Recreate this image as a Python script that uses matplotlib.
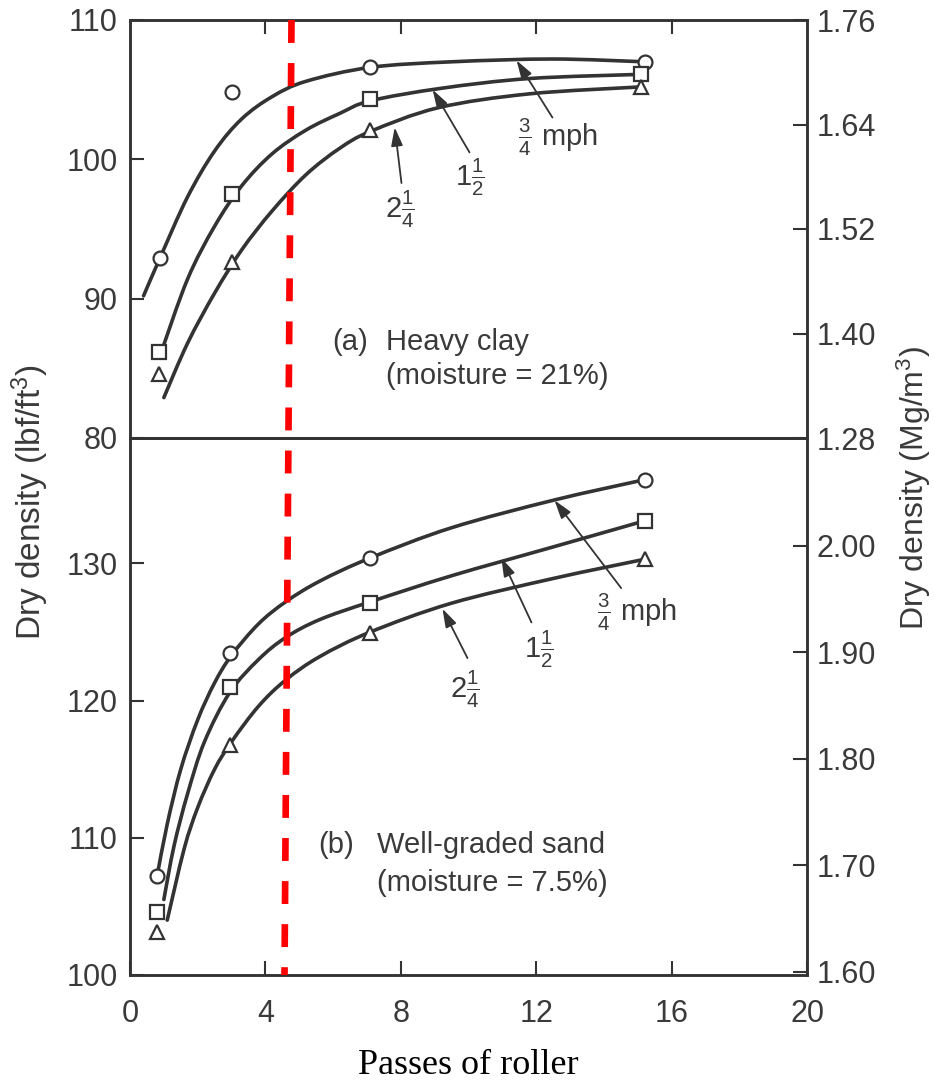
import matplotlib
matplotlib.use("Agg")
import matplotlib.pyplot as plt
from matplotlib.lines import Line2D
from matplotlib.path import Path
from matplotlib.patches import PathPatch

plt.rcParams['font.family'] = ['Liberation Sans', 'DejaVu Sans']
plt.rcParams['mathtext.fontset'] = 'custom'
plt.rcParams['mathtext.rm'] = 'Liberation Sans'
plt.rcParams['mathtext.it'] = 'Liberation Sans'
plt.rcParams['lines.scale_dashes'] = False

INK = '#333333'
TXT = '#3a3a3a'

# (a) heavy clay - measured points
top_circ_x = [0.9, 3.0, 7.1, 15.2]
top_circ_y = [92.9, 104.8, 106.6, 107.0]
top_sq_x = [0.85, 3.0, 7.1, 15.1]
top_sq_y = [86.2, 97.5, 104.3, 106.1]
top_tri_x = [0.85, 3.0, 7.1, 15.1]
top_tri_y = [84.6, 92.6, 102.1, 105.2]

# (a) fitted curves
top_c_cx = [0.4, 0.9, 1.7, 2.5, 3.3, 4.2, 5.2, 7.1, 9.5, 12.5, 15.2]
top_c_cy = [90.2, 93.0, 97.3, 100.6, 102.9, 104.5, 105.6, 106.6, 107.0, 107.2, 107.0]
top_s_cx = [0.9, 1.7, 2.5, 3.3, 4.2, 5.2, 6.2, 7.1, 9.2, 11.8, 15.1]
top_s_cy = [86.0, 91.4, 95.2, 98.1, 100.4, 102.1, 103.3, 104.2, 105.1, 105.8, 106.1]
top_t_cx = [1.0, 1.7, 2.5, 3.3, 4.2, 5.2, 6.2, 7.1, 9.1, 11.8, 15.1]
top_t_cy = [82.9, 86.8, 90.4, 93.5, 96.3, 98.9, 100.8, 102.0, 103.7, 104.7, 105.2]

# (b) well-graded sand - measured points
bot_circ_x = [0.8, 2.95, 7.1, 15.2]
bot_circ_y = [107.2, 123.5, 130.4, 136.1]
bot_sq_x = [0.8, 2.95, 7.1, 15.2]
bot_sq_y = [104.6, 121.0, 127.1, 133.1]
bot_tri_x = [0.8, 2.95, 7.1, 15.2]
bot_tri_y = [103.1, 116.8, 124.9, 130.3]

# (b) fitted curves
bot_c_cx = [0.8, 1.1, 1.5, 2.0, 2.5, 3.0, 3.8, 4.6, 5.6, 7.1, 9.5, 12.5, 15.2]
bot_c_cy = [107.2, 111.0, 115.0, 118.6, 121.3, 123.3, 125.6, 127.2, 128.7, 130.4, 132.6, 134.6, 136.1]
bot_s_cx = [1.0, 1.3, 1.7, 2.2, 2.95, 3.8, 4.6, 5.6, 7.1, 9.5, 12.5, 15.2]
bot_s_cy = [105.5, 109.4, 113.2, 117.0, 120.6, 123.0, 124.6, 125.9, 127.2, 129.1, 131.2, 133.1]
bot_t_cx = [1.1, 1.6, 2.0, 2.5, 3.0, 3.8, 4.6, 5.6, 7.1, 9.5, 12.5, 15.2]
bot_t_cy = [104.0, 109.2, 112.2, 115.0, 117.0, 119.6, 121.5, 123.2, 125.0, 127.1, 128.9, 130.3]

speed_labels = [r'$\frac{3}{4}$ mph', r'1$\frac{1}{2}$', r'2$\frac{1}{4}$']

fig = plt.figure(figsize=(9.34, 10.84), dpi=100)
W, H = 934, 1084
ax1 = fig.add_axes([130 / W, 1 - 438 / H, 677 / W, 418 / H])
ax2 = fig.add_axes([130 / W, 1 - 975 / H, 677 / W, 537 / H])


def style(ax):
    for s in ax.spines.values():
        s.set_color(INK)
        s.set_linewidth(1.8)
    ax.tick_params(direction='in', length=10, width=1.5, color=INK,
                   labelcolor=TXT, labelsize=22, pad=9)


def smooth(ax, xs, ys):
    # bezier path through the read points (catmull-rom style handles)
    pts = list(zip(xs, ys))
    n = len(pts)
    verts = [pts[0]]
    codes = [Path.MOVETO]
    for i in range(n - 1):
        p0 = pts[max(i - 1, 0)]
        p1 = pts[i]
        p2 = pts[i + 1]
        p3 = pts[min(i + 2, n - 1)]
        c1 = (p1[0] + (p2[0] - p0[0]) / 6, p1[1] + (p2[1] - p0[1]) / 6)
        c2 = (p2[0] - (p3[0] - p1[0]) / 6, p2[1] - (p3[1] - p1[1]) / 6)
        verts += [c1, c2, p2]
        codes += [Path.CURVE4] * 3
    ax.add_patch(PathPatch(Path(verts, codes), fill=False, ec=INK, lw=2.6,
                           capstyle='round', zorder=2))


def curves(ax, cx, cy, mx, my, marker):
    smooth(ax, cx, cy)
    ax.plot(mx, my, ls='none', marker=marker, ms=10, mfc='white',
            mec=INK, mew=1.6, zorder=3)


# ---- top panel
curves(ax1, top_c_cx, top_c_cy, top_circ_x, top_circ_y, 'o')
curves(ax1, top_s_cx, top_s_cy, top_sq_x, top_sq_y, 's')
curves(ax1, top_t_cx, top_t_cy, top_tri_x, top_tri_y, '^')
ax1.set_xlim(0, 20)
ax1.set_ylim(80, 110)
ax1.set_yticks([80, 90, 100, 110])
ax1.set_xticks([4, 8, 12, 16])
style(ax1)
ax1.tick_params(axis='x', bottom=False, top=True, labelbottom=False)

r1 = ax1.twinx()
r1.set_ylim(1.28, 1.76)
r1.set_yticks([1.28, 1.40, 1.52, 1.64, 1.76])
r1.set_yticklabels(['1.28', '1.40', '1.52', '1.64', '1.76'])
style(r1)
r1.tick_params(pad=7)

# ---- bottom panel
curves(ax2, bot_c_cx, bot_c_cy, bot_circ_x, bot_circ_y, 'o')
curves(ax2, bot_s_cx, bot_s_cy, bot_sq_x, bot_sq_y, 's')
curves(ax2, bot_t_cx, bot_t_cy, bot_tri_x, bot_tri_y, '^')
ax2.set_xlim(0, 20)
ax2.set_ylim(100, 139.14)
ax2.set_yticks([100, 110, 120, 130])
ax2.set_xticks([0, 4, 8, 12, 16, 20])
style(ax2)
ax2.tick_params(axis='x', pad=17)

r2 = ax2.twinx()
r2.set_ylim(1.597, 2.101)
r2.set_yticks([1.60, 1.70, 1.80, 1.90, 2.00])
r2.set_yticklabels(['1.60', '1.70', '1.80', '1.90', '2.00'])
style(r2)
r2.tick_params(pad=7)

# speed labels with leader arrows
arrow = dict(arrowstyle='-|>,head_length=0.7,head_width=0.22', color=INK,
             lw=1.3, mutation_scale=16, shrinkA=0, shrinkB=0)
top_tips = [(11.42, 107.1), (8.94, 105.0), (7.82, 102.3)]
top_tails = [(12.48, 103.0), (10.03, 100.5), (8.02, 98.3)]
top_txt = [(11.45, 101.6), (9.59, 98.7), (7.52, 96.4)]
bot_tips = [(12.54, 134.6), (10.97, 130.4), (9.23, 126.7)]
bot_tails = [(14.51, 128.2), (11.86, 125.7), (9.97, 123.1)]
bot_txt = [(13.8, 126.4), (11.65, 123.7), (9.44, 120.8)]
for ax, tips, tails, txt in [(ax1, top_tips, top_tails, top_txt),
                             (ax2, bot_tips, bot_tails, bot_txt)]:
    for lab, tip, tail, tp in zip(speed_labels, tips, tails, txt):
        ax.annotate('', xy=tip, xytext=tail, arrowprops=arrow)
        ax.text(tp[0], tp[1], lab, ha='left', va='center', fontsize=21,
                color=TXT)

# panel captions
fig.text(332 / W, 1 - 342 / H, '(a)', fontsize=21, color=TXT, va='center')
fig.text(386 / W, 1 - 342 / H, 'Heavy clay', fontsize=21, color=TXT, va='center')
fig.text(386 / W, 1 - 376 / H, '(moisture = 21%)', fontsize=21, color=TXT, va='center')
fig.text(318 / W, 1 - 845 / H, '(b)', fontsize=21, color=TXT, va='center')
fig.text(377 / W, 1 - 845 / H, 'Well-graded sand', fontsize=21, color=TXT, va='center')
fig.text(377 / W, 1 - 883 / H, '(moisture = 7.5%)', fontsize=21, color=TXT, va='center')

# axis titles
fig.text(30 / W, 1 - 502 / H, r'Dry density (lbf/ft$^3$)', rotation=90,
         fontsize=24, color=TXT, ha='center', va='center')
fig.text(914 / W, 1 - 488 / H, r'Dry density (Mg/m$^3$)', rotation=90,
         fontsize=23, color=TXT, ha='center', va='center')
fig.text(468 / W, 1 - 1066 / H, 'Passes of roller', fontsize=26,
         family='Liberation Serif', color='black', ha='center', va='center')

# red dashed marker line, drawn over both panels
red = Line2D([291.5 / W, 284.5 / W], [1 - 20 / H, 1 - 975 / H],
             transform=fig.transFigure, color='#ff0000', lw=4.8,
             dashes=(16.5, 14.5), dash_capstyle='butt', zorder=10)
fig.add_artist(red)

fig.savefig('out.png', dpi=100, facecolor='white')
